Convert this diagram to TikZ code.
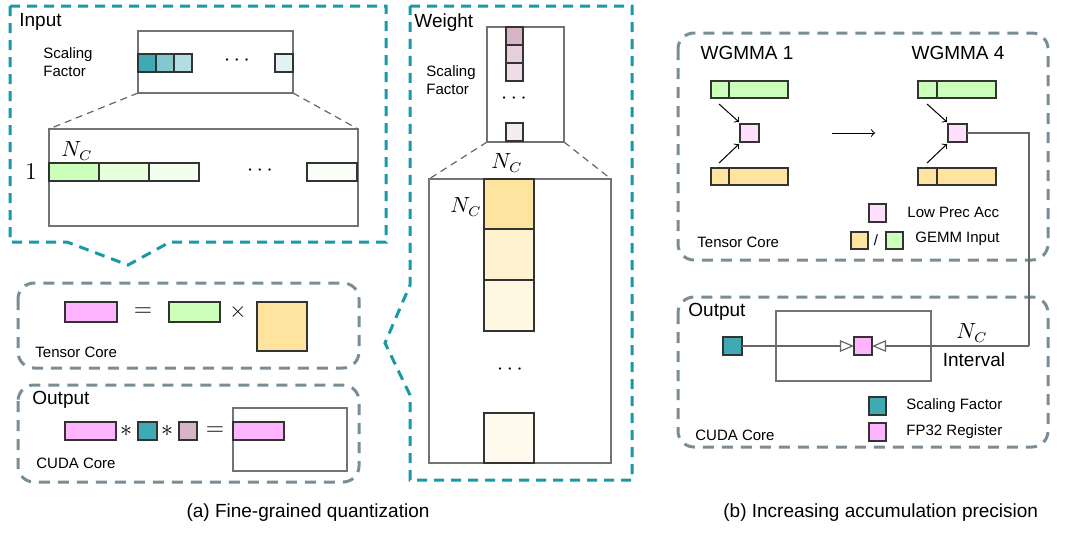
\documentclass[tikz,border=0pt]{standalone}
\usepackage{fontspec}
\setmainfont{Liberation Sans}
\usepackage{tikz}
\usetikzlibrary{
    arrows,
    calc,
    positioning
}
\definecolor{tealdash}{RGB}{23,154,163}
\definecolor{slate}{RGB}{122,140,150}
\definecolor{sfteal}{RGB}{64,170,180}
\definecolor{mauve}{RGB}{216,180,200}
\definecolor{regpink}{RGB}{255,180,255}
\definecolor{accpink}{RGB}{255,222,255}
\definecolor{gemmgreen}{RGB}{204,255,186}
\definecolor{gemmyellow}{RGB}{255,228,160}
\tikzset{
    cell/.style={draw=black!80, line width=0.6pt, inner sep=0pt, outer sep=0pt, anchor=north west},
    frame/.style={draw=black!55, line width=0.6pt, inner sep=0pt, outer sep=0pt, anchor=north west},
    tealframe/.style={draw=tealdash, line width=1.5pt, dash pattern=on 5pt off 3.5pt},
    grayframe/.style={draw=slate, line width=1.5pt, dash pattern=on 5.5pt off 4pt, rounded corners=8pt},
    zoomline/.style={draw=black!60, line width=0.6pt, dash pattern=on 3.5pt off 2.5pt},
    wire/.style={draw=black!60, line width=0.6pt},
    big/.style={font=\fontsize{9.5}{11}\selectfont, inner sep=0pt, anchor=west},
    small/.style={font=\fontsize{7.5}{9}\selectfont, inner sep=0pt, anchor=west, align=left},
    mathlbl/.style={font=\fontsize{10.5}{12}\selectfont, inner sep=0pt},
    oplbl/.style={font=\fontsize{13}{14}\selectfont, inner sep=0pt}
}
\begin{document}
\begin{tikzpicture}[x=0.5pt, y=-0.5pt]
    \useasboundingbox (0,0) rectangle (1080,532);

    \draw[tealframe] (10,6) -- (386,6) -- (386,242) -- (170,242) -- (128,265) -- (67,242) -- (10,242) -- cycle;
    \node[big] (inlbl) at (19,22) {Input};
    \node[small] (insflbl) at (43,62) {Scaling\\Factor};
    \node[frame, minimum width=77.5pt, minimum height=31pt] (insf) at (138,31) {};
    \node[cell, fill=sfteal, minimum width=9pt, minimum height=9pt] (insf1) at (138,54) {};
    \node[cell, fill=sfteal!65, minimum width=9pt, minimum height=9pt] (insf2) at (156,54) {};
    \node[cell, fill=sfteal!40, minimum width=9pt, minimum height=9pt] (insf3) at (174,54) {};
    \node[cell, fill=sfteal!15, minimum width=9pt, minimum height=9pt] (insfn) at (275,54) {};
    \node[mathlbl] (insfdots) at (237,61) {$\cdots$};
    \node[frame, minimum width=154.5pt, minimum height=48.5pt] (inbig) at (49,129) {};
    \node[mathlbl] (innc) at (77,151) {$N_C$};
    \node[oplbl] (inone) at (31,172) {$1$};
    \node[cell, fill=gemmgreen, minimum width=25pt, minimum height=9pt] (in1) at (49,163) {};
    \node[cell, fill=gemmgreen!50, minimum width=25pt, minimum height=9pt] (in2) at (99,163) {};
    \node[cell, fill=gemmgreen!28, minimum width=25pt, minimum height=9pt] (in3) at (149,163) {};
    \node[cell, fill=gemmgreen!12, minimum width=25pt, minimum height=9pt] (inn) at (307,163) {};
    \node[mathlbl] (indots) at (260,171) {$\cdots$};
    \draw[zoomline] (insf.south west) -- (inbig.north west);
    \draw[zoomline] (insf.south east) -- (inbig.north east);

    \draw[grayframe] (18,283) rectangle (359,368);
    \node[cell, fill=regpink, minimum width=26pt, minimum height=10pt] (tcout) at (65,302) {};
    \node[oplbl] (tceq) at (143,312) {$=$};
    \node[cell, fill=gemmgreen, minimum width=25.5pt, minimum height=10pt] (tcin) at (169,302) {};
    \node[mathlbl] (tctimes) at (238,312) {$\times$};
    \node[cell, fill=gemmyellow, minimum width=25pt, minimum height=24.5pt] (tcw) at (257,302) {};
    \node[small] (tclbl) at (35,352) {Tensor Core};

    \draw[grayframe] (18,385) rectangle (359,482);
    \node[big] (cclbl) at (32,400) {Output};
    \node[cell, fill=regpink, minimum width=25.5pt, minimum height=9pt] (ccacc) at (65,422) {};
    \node[oplbl] (ccst1) at (126,431) {$*$};
    \node[cell, fill=sfteal, minimum width=9.5pt, minimum height=9pt] (ccsa) at (138,422) {};
    \node[oplbl] (ccst2) at (167,431) {$*$};
    \node[cell, fill=mauve, minimum width=9pt, minimum height=9pt] (ccsb) at (179,422) {};
    \node[oplbl] (cceq) at (215,431) {$=$};
    \node[frame, minimum width=57pt, minimum height=31.5pt] (ccres) at (233,408) {};
    \node[cell, fill=regpink, minimum width=25.5pt, minimum height=9pt] (ccout) at (233,422) {};
    \node[small] (cccore) at (36,463) {CUDA Core};

    \draw[tealframe] (410,6) -- (632,6) -- (632,480) -- (410,480) -- (410,395) -- (385,343) -- (410,285) -- cycle;
    \node[big] (wlbl) at (414,23) {Weight};
    \node[small] (wsflbl) at (426,80) {Scaling\\Factor};
    \node[frame, minimum width=38.5pt, minimum height=57.5pt] (wsf) at (487,27) {};
    \node[cell, fill=mauve, minimum width=8.5pt, minimum height=9pt] (wsf1) at (506,27) {};
    \node[cell, fill=mauve!65, minimum width=8.5pt, minimum height=9pt] (wsf2) at (506,45) {};
    \node[cell, fill=mauve!45, minimum width=8.5pt, minimum height=9pt] (wsf3) at (506,63) {};
    \node[cell, fill=mauve!25, minimum width=8.5pt, minimum height=9pt] (wsfn) at (506,123) {};
    \node[mathlbl] (wsfdots) at (514,99) {$\cdots$};
    \node[frame, minimum width=91pt, minimum height=142pt] (wbig) at (429,179) {};
    \node[mathlbl] (wnctop) at (507,163) {$N_C$};
    \node[mathlbl] (wncleft) at (466,207) {$N_C$};
    \node[cell, fill=gemmyellow, minimum width=25pt, minimum height=25pt] (w1) at (484,179) {};
    \node[cell, fill=gemmyellow!50, minimum width=25pt, minimum height=25.5pt] (w2) at (484,229) {};
    \node[cell, fill=gemmyellow!30, minimum width=25pt, minimum height=25.5pt] (w3) at (484,280) {};
    \node[cell, fill=gemmyellow!18, minimum width=25pt, minimum height=25pt] (wn) at (484,413) {};
    \node[mathlbl] (wdots) at (510,370) {$\cdots$};
    \draw[zoomline] (wsf.south west) -- (wbig.north west);
    \draw[zoomline] (wsf.south east) -- (wbig.north east);

    \node[big, anchor=center] (capa) at (308,513) {(a) Fine-grained quantization};

    \draw[grayframe] (678,33) rectangle (1048,260);
    \node[big, anchor=center] (wg1) at (747,53) {WGMMA 1};
    \node[big, anchor=center] (wg4) at (958,53) {WGMMA 4};
    \node[cell, fill=gemmgreen, minimum width=9pt, minimum height=8.5pt] (ga1) at (711,81) {};
    \node[cell, fill=gemmgreen, minimum width=29.5pt, minimum height=8.5pt] (gb1) at (729,81) {};
    \node[cell, fill=accpink, minimum width=9.5pt, minimum height=9pt] (acc1) at (740,124) {};
    \node[cell, fill=gemmyellow, minimum width=9pt, minimum height=8.5pt] (ya1) at (711,168) {};
    \node[cell, fill=gemmyellow, minimum width=29.5pt, minimum height=8.5pt] (yb1) at (729,168) {};
    \node[cell, fill=gemmgreen, minimum width=9.5pt, minimum height=8.5pt] (ga4) at (918,81) {};
    \node[cell, fill=gemmgreen, minimum width=29.5pt, minimum height=8.5pt] (gb4) at (937,81) {};
    \node[cell, fill=accpink, minimum width=9.5pt, minimum height=9pt] (acc4) at (948,124) {};
    \node[cell, fill=gemmyellow, minimum width=9.5pt, minimum height=8.5pt] (ya4) at (918,168) {};
    \node[cell, fill=gemmyellow, minimum width=29.5pt, minimum height=8.5pt] (yb4) at (937,168) {};
    \coordinate (g1src) at (719,104);
    \coordinate (y1src) at (719,163);
    \coordinate (g4src) at (927,104);
    \coordinate (y4src) at (927,163);
    \coordinate (stepsrc) at (832,133);
    \coordinate (stepdst) at (875,133);
    \draw[line width=0.5pt]
    (g1src) edge[->] ($(acc1.north west)+(-1,-2)$)
    (y1src) edge[->] ($(acc1.south west)+(-1,2)$)
    (g4src) edge[->] ($(acc4.north west)+(-1,-2)$)
    (y4src) edge[->] ($(acc4.south west)+(-1,2)$)
    (stepsrc) edge[->] (stepdst);
    \node[cell, fill=accpink, minimum width=8.5pt, minimum height=9pt] (lgacc) at (869,204) {};
    \node[small] (lgacclbl) at (907,212) {Low Prec Acc};
    \node[cell, fill=gemmyellow, minimum width=8.5pt, minimum height=8.5pt] (lgy) at (851,232) {};
    \node[small, anchor=center] (lgslash) at (876,240) {/};
    \node[cell, fill=gemmgreen, minimum width=8.5pt, minimum height=8.5pt] (lgg) at (886,232) {};
    \node[small] (lgglbl) at (915,239) {GEMM Input};
    \node[small] (tclbl2) at (697,242) {Tensor Core};

    \draw[grayframe] (678,297) rectangle (1048,447);
    \node[big] (outlbl) at (688,312) {Output};
    \node[frame, minimum width=77.5pt, minimum height=35pt] (accbox) at (776,311) {};
    \node[cell, fill=sfteal, minimum width=9.5pt, minimum height=9pt] (sfsq) at (723,337) {};
    \node[cell, fill=regpink, minimum width=9pt, minimum height=9pt] (reg) at (854,337) {};
    \node[mathlbl] (ivnc) at (972,333) {$N_C$};
    \node[big, anchor=center] (ivlbl) at (974,360) {Interval};
    \coordinate (bend) at (1029,346);
    \draw[wire] (acc4.east) -| (bend);
    \draw[wire, -open triangle 45] (bend) -- (reg.east);
    \draw[wire, -open triangle 45] (sfsq.east) -- (reg.west);
    \node[cell, fill=sfteal, minimum width=8.5pt, minimum height=9pt] (lgsf) at (869,397) {};
    \node[small] (lgsflbl) at (906,406) {Scaling Factor};
    \node[cell, fill=regpink, minimum width=8.5pt, minimum height=9pt] (lgreg) at (869,423) {};
    \node[small] (lgreglbl) at (906,432) {FP32 Register};
    \node[small] (cccore2) at (695,435) {CUDA Core};

    \node[big] (capb) at (723,513) {(b) Increasing accumulation precision};
\end{tikzpicture}
\end{document}
